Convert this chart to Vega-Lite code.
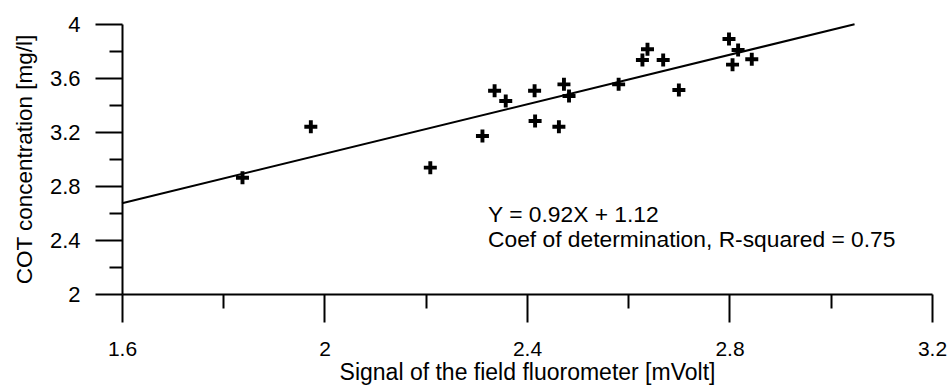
{
  "$schema": "https://vega.github.io/schema/vega-lite/v6.json",
  "width": 810,
  "height": 270,
  "autosize": "none",
  "padding": {"left": 122, "top": 24, "right": 18, "bottom": 91},
  "background": "white",
  "config": {"view": {"stroke": null}, "font": "Liberation Sans"},
  "datasets": {
    "points": [
      {"signal": 1.838, "cot": 2.861},
      {"signal": 1.973, "cot": 3.239},
      {"signal": 2.209, "cot": 2.936},
      {"signal": 2.312, "cot": 3.170},
      {"signal": 2.336, "cot": 3.506},
      {"signal": 2.358, "cot": 3.430},
      {"signal": 2.415, "cot": 3.506},
      {"signal": 2.416, "cot": 3.281},
      {"signal": 2.463, "cot": 3.239},
      {"signal": 2.473, "cot": 3.553},
      {"signal": 2.483, "cot": 3.467},
      {"signal": 2.581, "cot": 3.553},
      {"signal": 2.628, "cot": 3.733},
      {"signal": 2.638, "cot": 3.813},
      {"signal": 2.669, "cot": 3.733},
      {"signal": 2.700, "cot": 3.511},
      {"signal": 2.799, "cot": 3.889},
      {"signal": 2.817, "cot": 3.807},
      {"signal": 2.806, "cot": 3.699},
      {"signal": 2.844, "cot": 3.739}
    ],
    "fit": [
      {"signal": 1.6, "cot": 2.672},
      {"signal": 3.047, "cot": 3.998}
    ],
    "note": [
      {"text": ["Y = 0.92X + 1.12", "Coef of determination, R-squared = 0.75"]}
    ]
  },
  "layer": [
    {
      "data": {"name": "points"},
      "mark": {
        "type": "point",
        "shape": "M-1,-0.3H-0.3V-1H0.3V-0.3H1V0.3H0.3V1H-0.3V0.3H-1Z",
        "filled": true,
        "color": "black",
        "opacity": 1,
        "size": 169
      },
      "encoding": {
        "x": {
          "field": "signal",
          "type": "quantitative",
          "scale": {"domain": [1.6, 3.2], "nice": false, "zero": false},
          "axis": {
            "orient": "bottom",
            "values": [1.6, 2, 2.4, 2.8, 3.2],
            "format": "~g",
            "grid": false,
            "domainColor": "black",
            "domainWidth": 2,
            "tickColor": "black",
            "tickWidth": 2,
            "tickSize": 28,
            "labelFontSize": 21,
            "labelColor": "black",
            "labelPadding": 16,
            "labelFlush": false,
            "labelOverlap": false,
            "title": "Signal of the field fluorometer [mVolt]",
            "titleFontSize": 23,
            "titleFontWeight": "normal",
            "titleColor": "black",
            "titlePadding": 2
          }
        },
        "y": {
          "field": "cot",
          "type": "quantitative",
          "scale": {"domain": [2, 4], "nice": false, "zero": false},
          "axis": {
            "orient": "left",
            "values": [2, 2.4, 2.8, 3.2, 3.6, 4],
            "format": "~g",
            "grid": false,
            "domainColor": "black",
            "domainWidth": 2,
            "tickColor": "black",
            "tickWidth": 2,
            "tickSize": 27,
            "labelFontSize": 22,
            "labelColor": "black",
            "labelPadding": 15,
            "labelFlush": false,
            "labelOverlap": false,
            "title": "COT concentration [mg/l]",
            "titleFontSize": 22.5,
            "titleFontWeight": "normal",
            "titleColor": "black",
            "titlePadding": 13
          }
        }
      }
    },
    {
      "data": {"name": "fit"},
      "mark": {"type": "line", "color": "black", "strokeWidth": 2},
      "encoding": {
        "x": {
          "field": "signal",
          "type": "quantitative",
          "scale": {"domain": [1.6, 3.2], "nice": false, "zero": false},
          "axis": {
            "orient": "bottom",
            "values": [1.8, 2.2, 2.6, 3.0],
            "labels": false,
            "domain": false,
            "grid": false,
            "title": null,
            "tickColor": "black",
            "tickWidth": 2,
            "tickSize": 14
          }
        },
        "y": {
          "field": "cot",
          "type": "quantitative",
          "scale": {"domain": [2, 4], "nice": false, "zero": false},
          "axis": {
            "orient": "left",
            "values": [2.2, 2.6, 3.0, 3.4, 3.8],
            "labels": false,
            "domain": false,
            "grid": false,
            "title": null,
            "tickColor": "black",
            "tickWidth": 2,
            "tickSize": 13
          }
        }
      }
    },
    {
      "data": {"name": "note"},
      "mark": {
        "type": "text",
        "align": "left",
        "baseline": "alphabetic",
        "fontSize": 22.8,
        "lineHeight": 25.5,
        "color": "black"
      },
      "encoding": {
        "x": {"datum": 2.323, "type": "quantitative", "scale": {"domain": [1.6, 3.2], "nice": false, "zero": false}, "axis": null},
        "y": {"datum": 2.5356, "type": "quantitative", "scale": {"domain": [2, 4], "nice": false, "zero": false}, "axis": null},
        "text": {"field": "text"}
      }
    }
  ],
  "resolve": {"axis": {"x": "independent", "y": "independent"}}
}
